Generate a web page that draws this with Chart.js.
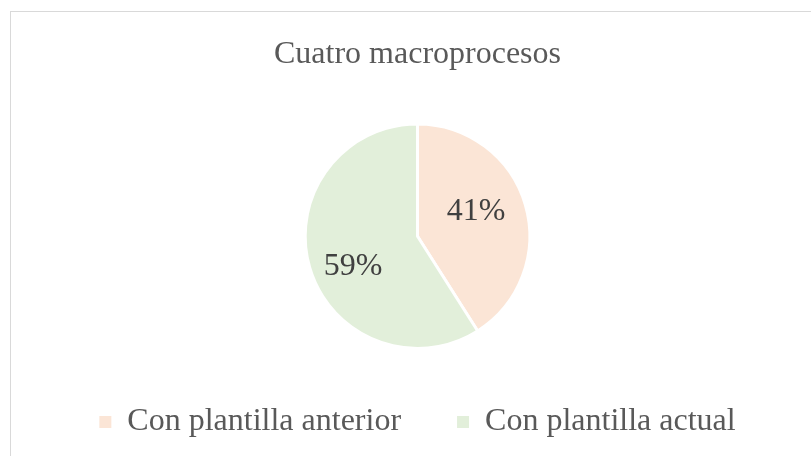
<!DOCTYPE html>
<html>
<head>
<meta charset="utf-8">
<script src="https://cdn.jsdelivr.net/npm/chart.js@4.4.0/dist/chart.umd.min.js"></script>
<style>
  html, body { margin: 0; padding: 0; background: #fff; overflow: hidden; }
  #frame {
    position: absolute; left: 10px; top: 11px;
    width: 813px; height: 444px;
    border-left: 1px solid #d9d9d9; border-top: 1px solid #d9d9d9;
  }
  #myChart { display: block; }
</style>
</head>
<body>
<div id="frame">
  <canvas id="myChart" width="813" height="444"></canvas>
</div>
<script>
// data
const labels = ['Con plantilla anterior', 'Con plantilla actual'];
const shares = [41, 59];
const sliceColors = ['#fbe5d6', '#e2efda'];

const serif = "'Liberation Serif', 'Times New Roman', serif";

// percent labels inside each slice, Excel style
const pctLabels = {
  id: 'pctLabels',
  afterDatasetsDraw(chart) {
    const ctx = chart.ctx;
    const meta = chart.getDatasetMeta(0);
    const total = shares.reduce((a, b) => a + b, 0);
    ctx.save();
    ctx.font = '32px ' + serif;
    ctx.fillStyle = '#404040';
    ctx.textAlign = 'center';
    ctx.textBaseline = 'middle';
    meta.data.forEach((arc, i) => {
      const p = arc.getProps(['x', 'y', 'startAngle', 'endAngle', 'outerRadius'], true);
      const mid = (p.startAngle + p.endAngle) / 2 - 8 * Math.PI / 180;
      const r = p.outerRadius * 0.6;
      const txt = Math.round(shares[i] / total * 100) + '%';
      // small nudge down-left like the Excel placement
      ctx.fillText(txt, p.x + Math.cos(mid) * r - 3, p.y + Math.sin(mid) * r + 3);
    });
    ctx.restore();
  }
};

const data = {
  labels: labels,
  datasets: [{
    data: shares,
    backgroundColor: sliceColors,
    borderColor: '#ffffff',
    borderWidth: 3
  }]
};

const config = {
  type: 'pie',
  data: data,
  options: {
    responsive: false,
    animation: false,
    layout: { padding: { top: 0, bottom: 8, left: 0, right: 0 } },
    plugins: {
      title: {
        display: true,
        text: 'Cuatro macroprocesos',
        color: '#595959',
        font: { family: serif, size: 32, weight: 'normal' },
        padding: { top: 23, bottom: 49 }
      },
      legend: {
        position: 'bottom',
        labels: {
          color: '#595959',
          font: { family: serif, size: 32 },
          boxWidth: 12,
          boxHeight: 12,
          padding: 56,
          generateLabels(chart) {
            const items = Chart.controllers.pie.overrides.plugins.legend.labels.generateLabels(chart);
            items.forEach(it => { it.lineWidth = 0; it.strokeStyle = 'rgba(0,0,0,0)'; });
            return items;
          }
        }
      },
      tooltip: { enabled: false }
    }
  },
  plugins: [pctLabels]
};

const myChart = new Chart(document.getElementById('myChart'), config);
</script>
</body>
</html>
